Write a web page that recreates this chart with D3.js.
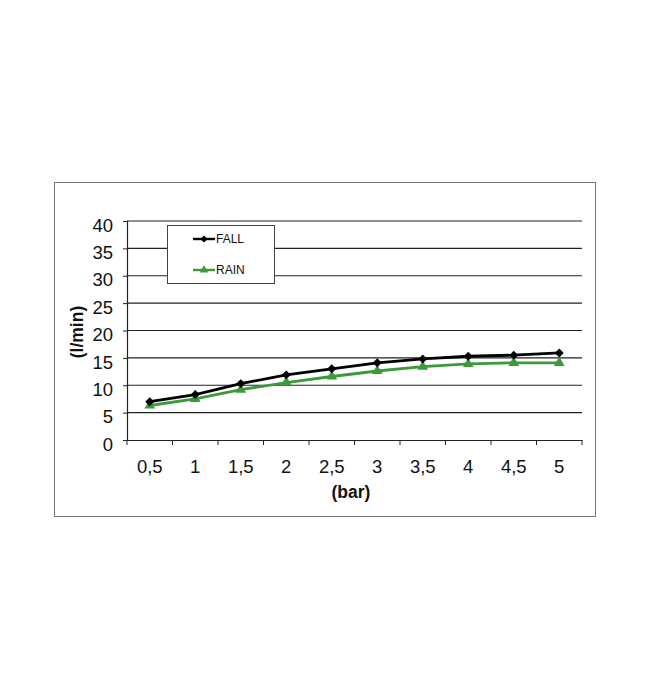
<!DOCTYPE html>
<html><head><meta charset="utf-8">
<script src="https://cdn.jsdelivr.net/npm/d3@7"></script>
<style>body{margin:0;background:#fff}svg{display:block}</style>
</head><body>
<svg id="c" width="650" height="699"></svg>
<script>
const categories = ["0,5","1","1,5","2","2,5","3","3,5","4","4,5","5"];
const fallValues = [7.0, 8.3, 10.3, 11.9, 13.0, 14.1, 14.8, 15.3, 15.5, 15.9];
const rainValues = [6.3, 7.5, 9.2, 10.5, 11.6, 12.6, 13.4, 13.9, 14.1, 14.1];
const yTicks = [0,5,10,15,20,25,30,35,40];
const seriesNames = ["FALL","RAIN"];

const svg = d3.select("#c");
const font = "'Liberation Sans',Arial,sans-serif";
svg.append("rect").attr("x",54.5).attr("y",182.5).attr("width",541).attr("height",334)
  .attr("fill","#fff").attr("stroke","#777").attr("stroke-width",1);

const L=127,R=582,T=221,B=440;
const x = d3.scaleBand().domain(categories).range([L,R]);
const y = d3.scaleLinear().domain([0,40]).range([B,T]);

// gridlines
svg.append("g").selectAll("line").data(yTicks.filter(d=>d>0)).join("line")
  .attr("x1",L).attr("x2",R).attr("y1",d=>y(d)).attr("y2",d=>y(d))
  .attr("stroke","#222").attr("stroke-width",1.2);

// y axis
const ya = svg.append("g").attr("transform",`translate(${L},0)`)
  .call(d3.axisLeft(y).tickValues(yTicks).tickSize(4).tickPadding(10));
ya.select(".domain").attr("stroke","#222").attr("stroke-width",1.2);
ya.selectAll(".tick line").attr("stroke","#222");
ya.selectAll("text").attr("font-family",font).attr("font-size",18.5).attr("fill","#111").attr("dy","0.55em");

// x axis
const xa = svg.append("g").attr("transform",`translate(0,${B})`)
  .call(d3.axisBottom(x).tickSize(0).tickPadding(20));
xa.select(".domain").attr("stroke","#222").attr("stroke-width",1.2);
xa.selectAll("text").attr("font-family",font).attr("font-size",18.5).attr("fill","#111");
const bounds = categories.map(c=>x(c)).concat([R]);
svg.append("g").selectAll("line").data(bounds).join("line")
  .attr("x1",d=>d).attr("x2",d=>d).attr("y1",B).attr("y2",B+5)
  .attr("stroke","#222").attr("stroke-width",1);

// titles
svg.append("text").attr("x",351).attr("y",498).attr("text-anchor","middle")
  .attr("font-family",font).attr("font-weight","bold").attr("font-size",17.5).attr("fill","#111").text("(bar)");
svg.append("text").attr("transform","translate(82.5,332) rotate(-90)").attr("text-anchor","middle")
  .attr("font-family",font).attr("font-weight","bold").attr("font-size",17.5).attr("fill","#111").text("(l/min)");

const cx = d=>x(d)+x.bandwidth()/2;
const line = d3.line().x((d,i)=>cx(categories[i])).y(d=>y(d));
const green = "#3d9a3a";

svg.append("path").datum(rainValues).attr("d",line).attr("fill","none").attr("stroke",green).attr("stroke-width",2.8);
svg.append("path").datum(fallValues).attr("d",line).attr("fill","none").attr("stroke","#000").attr("stroke-width",2.8);

const tri = d3.symbol().type(d3.symbolTriangle).size(50);
const sq = d3.symbol().type(d3.symbolSquare).size(40);
svg.append("g").selectAll("path").data(rainValues).join("path")
  .attr("d",tri).attr("transform",(d,i)=>`translate(${cx(categories[i])},${y(d)})`).attr("fill",green);
svg.append("g").selectAll("path").data(fallValues).join("path")
  .attr("d",sq).attr("transform",(d,i)=>`translate(${cx(categories[i])},${y(d)}) rotate(45)`).attr("fill","#000");

// legend
svg.append("rect").attr("x",167.5).attr("y",225.5).attr("width",107).attr("height",58)
  .attr("fill","#fff").attr("stroke","#444").attr("stroke-width",1);
const lg = [{n:seriesNames[0],c:"#000",s:sq,r:45,y:239},{n:seriesNames[1],c:green,s:tri,r:0,y:270}];
lg.forEach(d=>{
  svg.append("line").attr("x1",193).attr("x2",215).attr("y1",d.y).attr("y2",d.y).attr("stroke",d.c).attr("stroke-width",2.4);
  svg.append("path").attr("d",d.s).attr("transform",`translate(204,${d.y}) rotate(${d.r}) scale(0.8)`).attr("fill",d.c);
  svg.append("text").attr("x",216).attr("y",d.y).attr("dy","0.36em").attr("font-family",font)
    .attr("font-size",12).attr("fill","#111").text(d.n);
});
</script>
</body></html>
